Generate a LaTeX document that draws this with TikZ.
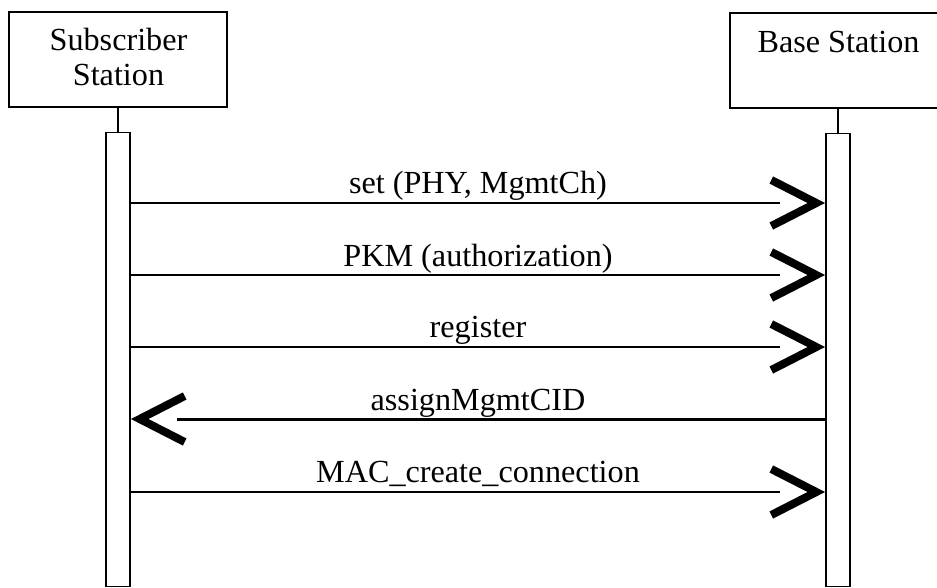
\documentclass[tikz,border=0pt]{standalone}
\usepackage{fontspec}
\setmainfont{Liberation Serif}
\usetikzlibrary{calc}
\tikzset{
  actor/.style={draw, line width=1.4pt, minimum width=218pt, minimum height=95pt},
  life/.style={draw, line width=1.4pt, minimum width=24pt},
  msg/.style={line width=1.3pt},
  retmsg/.style={line width=3pt},
  head/.style={line width=8pt, line cap=butt, line join=miter, miter limit=10},
  lbl/.style={anchor=base},
  vhead/.pic={\draw[head] (-54,-23) -- (-9,0) -- (-54,23);}
}
\begin{document}
\begin{tikzpicture}[x=1pt, y=-1pt,
  every node/.style={font=\fontsize{32.2}{35}\selectfont, inner sep=0pt}]
\useasboundingbox (0,0) rectangle (937,587);
\fill[white] (0,0) rectangle (937,587);
\clip (0,0) rectangle (937,587);

% participants
\node[actor] (ss) at (118,59.5) {};
\node[lbl] (ssname1) at (118.5,50) {Subscriber};
\node[lbl] (ssname2) at (118.5,85) {Station};
\node[actor, minimum width=216pt] (bs) at (838,60.5) {};
\node[lbl] (bsname) at (838.5,52) {Base Station};

% activation bars
\node[life, minimum height=454pt, anchor=north] (ssbar) at (118,132) {};
\node[life, minimum height=453pt, anchor=north] (bsbar) at (838,133) {};
\draw[line width=1.4pt] (ss.south) -- (ssbar.north);
\draw[line width=1.4pt] (bs.south) -- (bsbar.north);

% message rows
\coordinate (y1) at (0,203);
\coordinate (y2) at (0,275);
\coordinate (y3) at (0,347);
\coordinate (y4) at (0,419);
\coordinate (y5) at (0,492);

% requests from the subscriber station
\foreach \r in {y1,y2,y3,y5}{
  \draw[msg, shorten >=45pt] (ssbar.east |- \r) -- (bsbar.west |- \r);
  \pic at (bsbar.west |- \r) {vhead};
}
% reply from the base station
\draw[retmsg, shorten >=46pt] (bsbar.west |- y4) -- (ssbar.east |- y4);
\pic[xscale=-1] at (ssbar.east |- y4) {vhead};

% message labels
\node[lbl] (m1) at (478,193) {set (PHY, MgmtCh)};
\node[lbl] (m2) at (478,266) {PKM (authorization)};
\node[lbl] (m3) at (478,337) {register};
\node[lbl] (m4) at (478,410) {assignMgmtCID};
\node[lbl] (m5) at (478,482) {MAC\_create\_connection};
\end{tikzpicture}
\end{document}
